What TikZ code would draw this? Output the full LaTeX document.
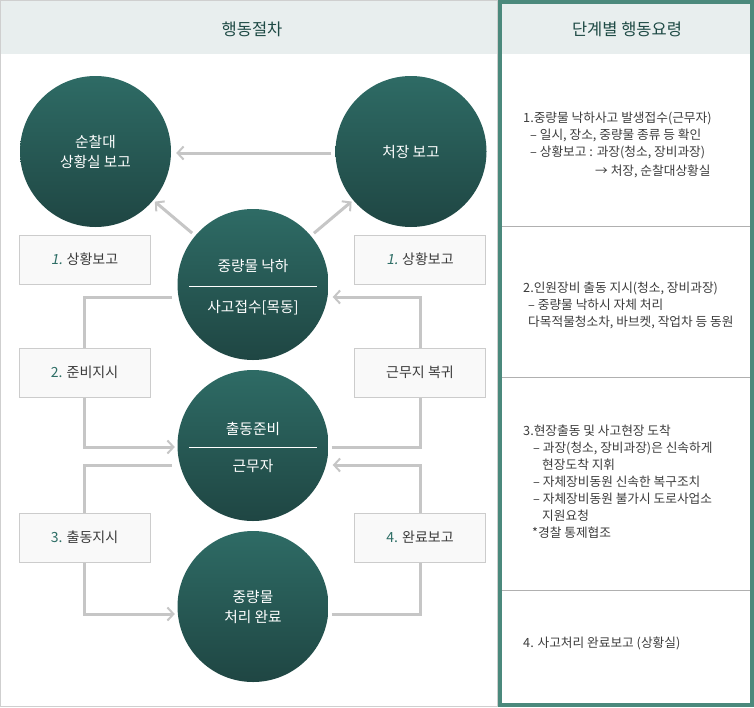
\documentclass[tikz,border=0pt]{standalone}
\usepackage{fontspec}
\setmainfont{Noto Sans CJK KR}
\newfontfamily\slnum[FakeSlant=0.2]{Noto Sans CJK KR}
\usetikzlibrary{arrows.meta,backgrounds,positioning}
\definecolor{circtop}{HTML}{2E6B65}
\definecolor{circbot}{HTML}{1F4643}
\definecolor{flowgray}{HTML}{C6C6C6}
\definecolor{boxfill}{HTML}{F9F9F9}
\definecolor{boxline}{HTML}{CCCCCC}
\definecolor{panelgray}{HTML}{CFCFCF}
\definecolor{headfill}{HTML}{E8EEEE}
\definecolor{panelgreen}{HTML}{4B897C}
\definecolor{sepgray}{HTML}{B0B0B0}
\definecolor{headtxt}{HTML}{1E4A45}
\definecolor{numteal}{HTML}{2E6E66}
\definecolor{txtgray}{HTML}{3C3C3C}
\newcommand{\nr}[1]{{\color{numteal}#1}}
\begin{document}
\begin{tikzpicture}[x=1pt,y=-1pt,
  stage/.style={circle,minimum size=151pt,inner sep=0pt,top color=circtop,bottom color=circbot,
    text=white,align=center,font=\fontsize{14.7}{20}\selectfont},
  stagetxt/.style={text=white,inner sep=0pt,font=\fontsize{14.7}{20}\selectfont},
  tag/.style={draw=boxline,fill=boxfill,minimum width=131pt,minimum height=49pt,inner sep=0pt,
    text=txtgray,font=\fontsize{14}{16}\selectfont},
  flow/.style={draw=flowgray,line width=3pt,-{Straight Barb[length=6pt,width=13pt,line width=2pt]}},
  headline/.style={text=headtxt,font=\fontsize{16.5}{19}\selectfont},
  guide/.style={anchor=west,align=left,inner sep=0pt,text=txtgray,font=\fontsize{12.7}{17}\selectfont}]
  \useasboundingbox (0,0) rectangle (754,707);
  % left panel with header band
  \draw[panelgray] (0.5,0.5) rectangle (497,706);
  \fill[headfill] (1,1) rectangle (496.5,54);
  \node[headline] (headl) at (252,29) {행동절차};
  % right panel: header band, green frame, separators
  \fill[headfill] (502,4) rectangle (750,54);
  \draw[panelgreen,line width=4pt] (500,2) rectangle (752,705);
  \node[headline] (headr) at (627,29) {단계별 행동요령};
  \foreach \y in {226,377,590}
    \draw[sepgray] (502,\y) -- (750,\y);

  % stage circles
  \node[stage] (patrol) at (95.5,151.5) {순찰대\\상황실 보고};
  \node[stage] (chief) at (411,151.5) {처장 보고};
  \node[stage] (drop) at (253,284.5) {};
  \node[stage] (ready) at (253,445.5) {};
  \node[stage] (done) at (253,606.5) {중량물\\처리 완료};
  % split circles: upper / lower text with a white rule
  \node[stagetxt] (dropa) at ([yshift=18.5pt]drop.center) {중량물 낙하};
  \node[stagetxt] (dropb) at ([yshift=-23.5pt]drop.center) {사고접수[목동]};
  \node[stagetxt] (readya) at ([yshift=16.5pt]ready.center) {출동준비};
  \node[stagetxt] (readyb) at ([yshift=-20.5pt]ready.center) {근무자};
  \foreach \c in {drop,ready}
    \draw[white,line width=1pt] ([xshift=-64pt,yshift=-1.5pt]\c.center) -- ([xshift=64pt,yshift=-1.5pt]\c.center);

  % step labels
  \node[tag] (lrep) at (84.5,259.5) {{\slnum\nr{1.}} 상황보고};
  \node[tag] (lprep) at (84.5,372.5) {\nr{2.} 준비지시};
  \node[tag] (lgo) at (84.5,537.5) {\nr{3.} 출동지시};
  \node[tag] (rrep) at (420,259.5) {{\slnum\nr{1.}} 상황보고};
  \node[tag] (rback) at (420,372.5) {근무지 복귀};
  \node[tag] (rdone) at (420,537.5) {\nr{4.} 완료보고};

  % connectors, kept under the labels
  \begin{scope}[on background layer]
    \draw[flow,shorten <=4pt,shorten >=5pt] ([yshift=-1.5pt]chief.west) -- ([yshift=-1.5pt]patrol.east);
    \draw[flow,shorten <=4pt,shorten >=2pt] (drop) -- (patrol);
    \draw[flow,shorten <=4pt,shorten >=2pt] (drop) -- (chief);
    \draw[flow] ([xshift=-5.5pt,yshift=-12.5pt]drop.west) -| (lprep.center) |- ([xshift=-2.5pt,yshift=-1.5pt]ready.west);
    \draw[flow] ([xshift=3pt,yshift=-1.5pt]ready.east) -| (rback.center) |- ([xshift=4pt,yshift=-12.5pt]drop.east);
    \draw[flow] ([xshift=-5.5pt,yshift=-19.5pt]ready.west) -| (lgo.center) |- ([xshift=-2.5pt,yshift=-7.5pt]done.west);
    \draw[flow] ([xshift=3pt,yshift=-7.5pt]done.east) -| (rdone.center) |- ([xshift=4pt,yshift=-19.5pt]ready.east);
  \end{scope}

  % guidance per step
  \node[guide] (step1) at (523,145) {1.중량물 낙하사고 발생접수(근무자)\\
    \hspace*{7pt}– 일시, 장소, 중량물 종류 등 확인\\
    \hspace*{7pt}– 상황보고 : 과장(청소, 장비과장)\\[2pt]
    \hspace*{72pt}→ 처장, 순찰대상황실};
  \node[guide] (step2) at (523,305.5) {2.인원장비 출동 지시(청소, 장비과장)\\
    \hspace*{5pt}– 중량물 낙하시 자체 처리\\
    \hspace*{5pt}다목적물청소차, 바브켓, 작업차 등 동원};
  \node[guide] (step3) at (523,481.5) {3.현장출동 및 사고현장 도착\\
    \hspace*{10pt}– 과장(청소, 장비과장)은 신속하게\\
    \hspace*{19pt}현장도착 지휘\\
    \hspace*{10pt}– 자체장비동원 신속한 복구조치\\
    \hspace*{10pt}– 자체장비동원 불가시 도로사업소\\
    \hspace*{19pt}지원요청\\
    \hspace*{9pt}*경찰 통제협조};
  \node[guide] (step4) at (523,643) {4. 사고처리 완료보고 (상황실)};
\end{tikzpicture}
\end{document}
